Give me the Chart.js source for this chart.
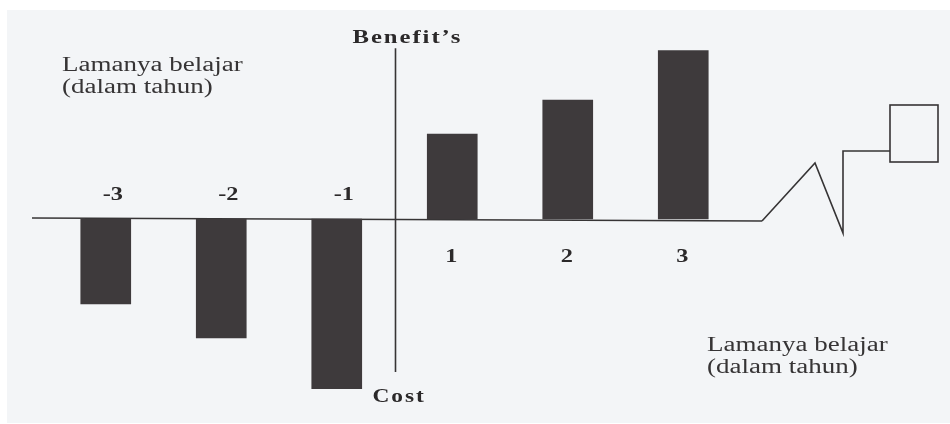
<!DOCTYPE html>
<html><head><meta charset="utf-8">
<script src="https://cdn.jsdelivr.net/npm/chart.js@4.4.1/dist/chart.umd.min.js"></script>
<style>html,body{margin:0;padding:0;background:#fff;overflow:hidden}#wrap{position:relative;width:950px;height:424px}</style>
</head><body><div id="wrap"><canvas id="c" width="950" height="424"></canvas></div>
<script>
// Data
const categories = ['-3', '-2', '-1', '1', '2', '3'];
const values = [-5, -7, -10, 5, 7, 9.9];
const yTopTitle = 'Benefit\u2019s';
const yBottomTitle = 'Cost';
const xTitleLines = ['Lamanya belajar', '(dalam tahun)'];

const PAPER = '#f3f5f7';
const INK = '#363435';
const BAR = '#3e3a3c';

function txt(ctx, s, x, y, font, sx, align, spacing, color) {
  ctx.save();
  ctx.font = font;
  ctx.letterSpacing = (spacing || 0) + 'px';
  const w = ctx.measureText(s).width - (spacing || 0);
  let x0 = align === 'center' ? x - w * sx / 2 : (align === 'right' ? x - w * sx : x);
  ctx.translate(x0, y);
  ctx.scale(sx, 1);
  ctx.textAlign = 'left';
  ctx.textBaseline = 'alphabetic';
  ctx.fillStyle = color || INK;
  ctx.fillText(s, 0, 0);
  ctx.restore();
}

const decor = {
  id: 'decor',
  beforeDraw(chart) {
    const ctx = chart.ctx;
    ctx.save();
    ctx.fillStyle = '#ffffff';
    ctx.fillRect(0, 0, chart.width, chart.height);
    ctx.fillStyle = PAPER;
    ctx.fillRect(7, 10, chart.width - 7, chart.height - 11);
    ctx.restore();
  },
  beforeDatasetsDraw(chart) {
    const ctx = chart.ctx, xs = chart.scales.x, ys = chart.scales.y;
    const y0 = ys.getPixelForValue(0);
    const axisX = (xs.getPixelForValue(2) + xs.getPixelForValue(3)) / 2 + 1;
    ctx.save();
    ctx.strokeStyle = INK;
    ctx.lineWidth = 1.6;
    ctx.beginPath();
    ctx.moveTo(xs.left - 16, y0 - 1);
    ctx.lineTo(xs.right + 21, y0 + 2);
    ctx.stroke();
    ctx.beginPath();
    ctx.moveTo(axisX, ys.getPixelForValue(10.05));
    ctx.lineTo(axisX, ys.getPixelForValue(-9));
    ctx.stroke();
    ctx.restore();
  },
  afterDatasetsDraw(chart) {
    const ctx = chart.ctx, xs = chart.scales.x, ys = chart.scales.y, ca = chart.chartArea;
    const y0 = ys.getPixelForValue(0);
    const axisX = (xs.getPixelForValue(2) + xs.getPixelForValue(3)) / 2 + 1;
    const zx = xs.right + 21;
    ctx.save();
    ctx.strokeStyle = INK;
    ctx.lineWidth = 1.6;
    ctx.beginPath();
    ctx.moveTo(zx, y0 + 2);
    ctx.lineTo(zx + 53, y0 - 56);
    ctx.lineTo(zx + 81, y0 + 14);
    ctx.lineTo(zx + 81, y0 - 68);
    ctx.lineTo(zx + 128, y0 - 68);
    ctx.stroke();
    ctx.strokeRect(zx + 128, y0 - 114, 48, 57);
    ctx.restore();

    const BOLD_INK = '#2b292a';
    const meta = chart.getDatasetMeta(0);
    meta.data.forEach((bar, i) => {
      if (values[i] < 0) {
        txt(ctx, categories[i], bar.x + 7, y0 - 19, 'bold 18px "Liberation Serif"', 1.35, 'center', 0, BOLD_INK);
      } else {
        txt(ctx, categories[i], bar.x - 1, y0 + 43, 'bold 18px "Liberation Serif"', 1.35, 'center', 0, BOLD_INK);
      }
    });

    txt(ctx, yTopTitle, axisX - 43, ca.top - 6, 'bold 19px "Liberation Serif"', 1.3, 'left', 1.5, BOLD_INK);
    txt(ctx, yBottomTitle, axisX - 23, ca.bottom + 13, 'bold 18px "Liberation Serif"', 1.3, 'left', 1.5, BOLD_INK);

    const rf = '20px "Liberation Serif"';
    txt(ctx, xTitleLines[0], xs.left + 14, ca.top + 22, rf, 1.35, 'left');
    txt(ctx, xTitleLines[1], xs.left + 14, ca.top + 44, rf, 1.35, 'left');
    txt(ctx, xTitleLines[0], xs.right - 34, y0 + 132, rf, 1.35, 'left');
    txt(ctx, xTitleLines[1], xs.right - 34, y0 + 154, rf, 1.35, 'left');
  }
};

new Chart(document.getElementById('c'), {
  type: 'bar',
  data: {
    labels: categories,
    datasets: [{
      data: values,
      backgroundColor: BAR,
      borderWidth: 0,
      barThickness: 50
    }]
  },
  options: {
    responsive: false,
    animation: false,
    devicePixelRatio: 1,
    layout: { padding: { left: 48, right: 209, top: 49, bottom: 35 } },
    plugins: { legend: { display: false }, tooltip: { enabled: false } },
    scales: {
      x: { type: 'category', display: false, offset: true },
      y: { display: false, min: -10, max: 10 }
    }
  },
  plugins: [decor]
});
</script>
</body></html>
